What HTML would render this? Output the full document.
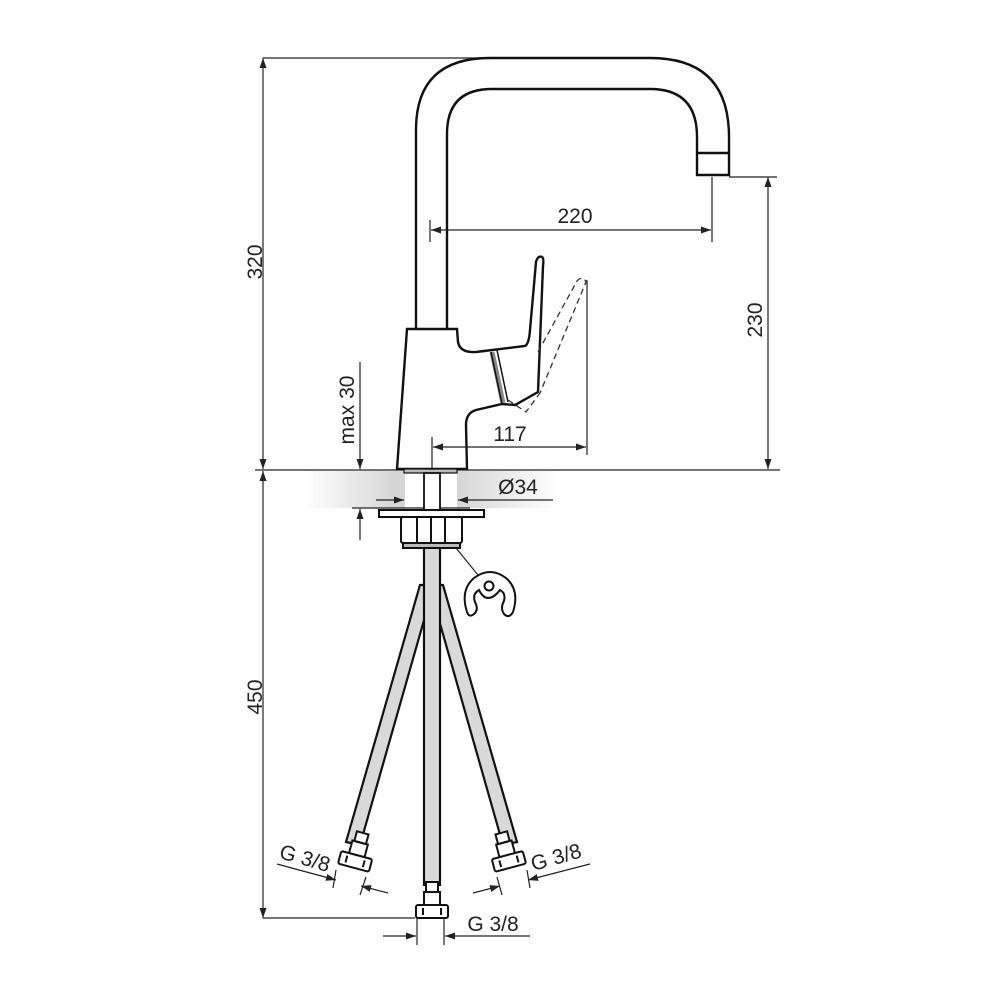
<!DOCTYPE html>
<html><head><meta charset="utf-8"><style>
html,body{margin:0;padding:0;background:#fff}
svg{display:block}
text{font-family:"Liberation Sans",sans-serif;font-size:21px;fill:#222}
</style></head><body>
<svg width="1000" height="1000" viewBox="0 0 1000 1000" xmlns="http://www.w3.org/2000/svg">
<defs>
<marker id="a" viewBox="0 0 10 10" refX="10" refY="5" markerWidth="10" markerHeight="10" orient="auto-start-reverse" markerUnits="userSpaceOnUse"><path d="M0,1.5 L10,5 L0,8.5 z" fill="#222"/></marker>
<linearGradient id="gl" x1="0" x2="1"><stop offset="0" stop-color="#fff"/><stop offset="0.9" stop-color="#d6d6d6"/></linearGradient>
<linearGradient id="gr" x1="0" x2="1"><stop offset="0" stop-color="#d6d6d6"/><stop offset="1" stop-color="#fff"/></linearGradient>
</defs>
<rect x="305" y="471" width="100" height="37" fill="url(#gl)"/>
<rect x="457" y="471" width="100" height="37" fill="url(#gr)"/>
<g stroke="#222" fill="none" stroke-width="1.2">
<line x1="255" y1="470" x2="780" y2="470"/>
<line x1="263" y1="58" x2="490" y2="58"/>
<line x1="263" y1="918" x2="415" y2="918"/>
<line x1="729" y1="177" x2="777" y2="177"/>
<line x1="352" y1="508" x2="470" y2="508"/>
</g>
<g stroke="#111" stroke-width="2.4" fill="#fff">
<path d="M416,330 L416,130 Q416,58 490,58 L650,58 Q729,58 729,137 L729,175 L697,175 L697,137 Q697,89 650,89 L492,89 Q447,89 447,134 L447,330 Z"/>
<line x1="697" y1="153" x2="729" y2="153"/>
<path d="M407,329 L457,329 L458,342 Q460,353 476,352 L525,346 Q529,344 530,330 L536,262 Q538,255 542,257 Q544,258 543,266 L538,392 L515,405 L502,404 L476,410 Q466,413 466,425 L467,469 L397,469 Z"/>
<path d="M492,352 L503,403" stroke-width="5" stroke="#888"/>
<line x1="491" y1="352" x2="502" y2="404" stroke-width="1.5"/>
<line x1="497" y1="350" x2="508" y2="402" stroke-width="1.5"/>
</g>
<g stroke="#333" stroke-width="1.3" fill="none" stroke-dasharray="6,4">
<path d="M538,352 L577,281 Q583,275 586,282 L540,393"/>
<path d="M508,400 L526,412 L540,393"/>
</g>
<rect x="404" y="469" width="53" height="4" fill="#bbb" stroke="#111" stroke-width="1.2"/>
<rect x="424" y="473" width="16" height="38" fill="#fff" stroke="#111" stroke-width="1.8"/>
<g stroke="#111" stroke-width="2.2" fill="#d9d9d9">
<polygon points="420,585 434,585 360,845 346,842"/>
<polygon points="429,585 443,585 517,842 503,845"/>
<rect x="424" y="545" width="16" height="340"/>
</g>
<g stroke="#111" stroke-width="2" fill="#fff">
<rect x="379" y="510" width="105" height="7"/>
<rect x="401" y="517" width="61" height="26" rx="2"/>
<line x1="417" y1="517" x2="417" y2="543"/><line x1="431" y1="517" x2="431" y2="543"/><line x1="445" y1="517" x2="445" y2="543"/>
<rect x="403" y="543" width="57" height="5" fill="#bbb"/>
</g>
<line x1="456" y1="548" x2="478" y2="575" stroke="#222" stroke-width="1.2"/>
<path d="M467,612 Q460,590 474,578 Q490,566 506,578 Q520,590 513,612 Q509,619 504,614 Q500,608 504,601 Q506,593 500,590 Q494,598 488,598 Q483,598 479,590 Q472,594 475,602 Q479,610 474,614 Q469,618 467,612 Z" fill="#fff" stroke="#111" stroke-width="2"/>
<circle cx="489" cy="586" r="4.5" fill="#fff" stroke="#111" stroke-width="2"/>
<g stroke="#111" stroke-width="2" fill="#fff">
<g transform="translate(432,0)">
<rect x="-6" y="882" width="12" height="10"/><rect x="-8" y="892" width="16" height="13"/>
<rect x="-16" y="905" width="32" height="13" rx="2"/>
<line x1="-9" y1="908" x2="-9" y2="915"/><line x1="9" y1="908" x2="9" y2="915"/>
</g>
<g transform="translate(356,858) rotate(15)">
<rect x="-6" y="-26" width="12" height="10"/><rect x="-8" y="-16" width="16" height="13"/>
<rect x="-16" y="-3" width="32" height="13" rx="2"/>
<line x1="-9" y1="0" x2="-9" y2="7"/><line x1="9" y1="0" x2="9" y2="7"/>
</g>
<g transform="translate(508,858) rotate(-15)">
<rect x="-6" y="-26" width="12" height="10"/><rect x="-8" y="-16" width="16" height="13"/>
<rect x="-16" y="-3" width="32" height="13" rx="2"/>
<line x1="-9" y1="0" x2="-9" y2="7"/><line x1="9" y1="0" x2="9" y2="7"/>
</g>
</g>
<g stroke="#222" stroke-width="1.2" fill="none">
<line x1="263" y1="58" x2="263" y2="469" marker-start="url(#a)" marker-end="url(#a)"/>
<line x1="263" y1="471" x2="263" y2="918" marker-start="url(#a)" marker-end="url(#a)"/>
<line x1="768" y1="177" x2="768" y2="469" marker-start="url(#a)" marker-end="url(#a)"/>
<line x1="430" y1="220" x2="430" y2="242"/><line x1="712" y1="177" x2="712" y2="242"/>
<line x1="431" y1="230" x2="711" y2="230" marker-start="url(#a)" marker-end="url(#a)"/>
<line x1="587" y1="280" x2="587" y2="455"/><line x1="432" y1="437" x2="432" y2="470"/>
<line x1="433" y1="447" x2="586" y2="447" marker-start="url(#a)" marker-end="url(#a)"/>
<line x1="360" y1="362" x2="360" y2="469" marker-end="url(#a)"/>
<line x1="360" y1="540" x2="360" y2="509" marker-end="url(#a)"/>
<line x1="376" y1="500" x2="404" y2="500" marker-end="url(#a)"/>
<line x1="553" y1="500" x2="458" y2="500" marker-end="url(#a)"/>
<line x1="417" y1="918" x2="417" y2="945"/><line x1="444" y1="918" x2="444" y2="945"/>
<line x1="383" y1="936" x2="416" y2="936" marker-end="url(#a)"/>
<line x1="530" y1="936" x2="445" y2="936" marker-end="url(#a)"/>
<line x1="277" y1="864" x2="336" y2="880" marker-end="url(#a)"/>
<line x1="388" y1="893" x2="361" y2="886" marker-end="url(#a)"/>
<line x1="336" y1="870" x2="333" y2="888"/><line x1="366" y1="877" x2="360" y2="895"/>
<line x1="473" y1="893" x2="500" y2="886" marker-end="url(#a)"/>
<line x1="590" y1="864" x2="528" y2="880" marker-end="url(#a)"/>
<line x1="497" y1="877" x2="502" y2="895"/><line x1="527" y1="870" x2="530" y2="888"/>
</g>
<text x="575" y="223" text-anchor="middle">220</text>
<text x="510" y="441" text-anchor="middle">117</text>
<text x="518" y="494" text-anchor="middle">Ø34</text>
<text x="493" y="931" text-anchor="middle">G 3/8</text>
<text transform="translate(262,262) rotate(-90)" text-anchor="middle">320</text>
<text transform="translate(262,697) rotate(-90)" text-anchor="middle">450</text>
<text transform="translate(762,320) rotate(-90)" text-anchor="middle">230</text>
<text transform="translate(354,410) rotate(-90)" text-anchor="middle">max 30</text>
<text transform="translate(303,865) rotate(16)" text-anchor="middle">G 3/8</text>
<text transform="translate(558,864) rotate(-16)" text-anchor="middle">G 3/8</text>
</svg>
</body></html>
